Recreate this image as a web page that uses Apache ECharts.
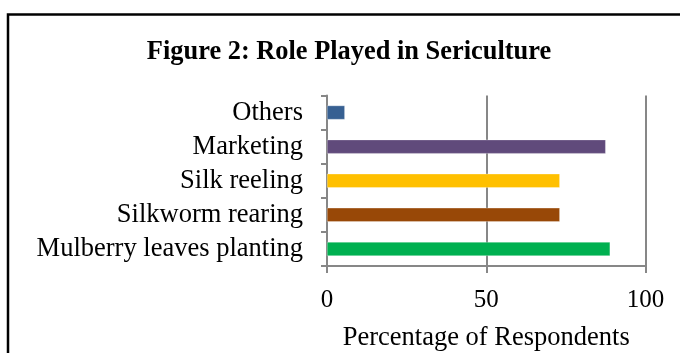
<!DOCTYPE html>
<html>
<head>
<meta charset="utf-8">
<script src="https://cdn.jsdelivr.net/npm/echarts@6/dist/echarts.min.js"></script>
<style>
html,body{margin:0;padding:0;background:#fff;}
#c{width:680px;height:353px;}
</style>
</head>
<body>
<div id="c"></div>
<script>
const categories = ["Mulberry leaves planting", "Silkworm rearing", "Silk reeling", "Marketing", "Others"];
const values = [88.9, 73.1, 73.1, 87.5, 5.6];
const barColors = ["#00B050", "#984807", "#FFC000", "#604A7B", "#376092"];
const xTicks = { min: 0, max: 100, interval: 50 };
const titleText = "Figure 2: Role Played in Sericulture";
const xAxisName = "Percentage of Respondents";

const chart = echarts.init(document.getElementById('c'), null, { renderer: 'canvas' });
const serif = "'Liberation Serif', 'Times New Roman', serif";
const gray = '#878787';

chart.setOption({
  animation: false,
  backgroundColor: '#ffffff',
  title: {
    text: titleText,
    left: 344,
    top: 34,
    textAlign: 'center',
    textStyle: { fontFamily: serif, fontWeight: 'bold', fontSize: 26.4, color: '#000' }
  },
  graphic: [{
    type: 'polyline',
    shape: { points: [[8, 360], [8, 14.5], [690, 14.5]] },
    style: { stroke: '#000', lineWidth: 2.5, fill: null }
  }],
  grid: { left: 327, right: 34.5, top: 95.5, bottom: 86.5, containLabel: false },
  xAxis: {
    type: 'value',
    min: xTicks.min, max: xTicks.max, interval: xTicks.interval,
    name: xAxisName,
    nameLocation: 'middle',
    nameGap: 59,
    nameTextStyle: { fontFamily: serif, fontSize: 26.5, color: '#000' },
    axisLine: { show: true, lineStyle: { color: gray, width: 2 } },
    axisTick: { show: true, length: 7, lineStyle: { color: gray, width: 2 } },
    axisLabel: { margin: 22, fontFamily: serif, fontSize: 25, color: '#000' },
    splitLine: { show: true, lineStyle: { color: gray, width: 2 } }
  },
  yAxis: {
    type: 'category',
    data: categories,
    axisLine: { show: true, lineStyle: { color: gray, width: 2 } },
    axisTick: { show: true, length: 6, lineStyle: { color: gray, width: 2 } },
    axisLabel: { interval: 0, hideOverlap: false, margin: 24, padding: [5, 0, 0, 0], fontFamily: serif, fontSize: 26.5, color: '#000' },
    splitLine: { show: false }
  },
  series: [{
    type: 'bar',
    barWidth: 14,
    data: values.map((v, i) => ({ value: v, itemStyle: { color: barColors[i], borderColor: 'rgba(255,255,255,0.6)', borderWidth: 0.5 } }))
  }]
});
</script>
</body>
</html>
